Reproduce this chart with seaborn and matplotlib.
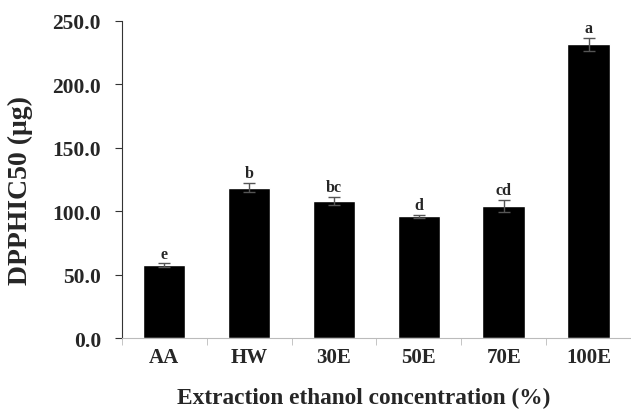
import pandas as pd
import matplotlib
matplotlib.use('Agg')
import matplotlib.pyplot as plt
import seaborn as sns

# data
groups = ['AA', 'HW', '30E', '50E', '70E', '100E']
ic50 = [57.5, 118.7, 108.0, 96.1, 104.0, 231.7]
err = [1.5, 3.5, 3.2, 1.3, 4.7, 5.0]
letters = ['e', 'b', 'bc', 'd', 'cd', 'a']

df = pd.DataFrame({'group': groups, 'ic50': ic50, 'err': err, 'letter': letters})

sns.set_style('white')
plt.rcParams['font.family'] = ['Liberation Serif', 'DejaVu Serif']
plt.rcParams['font.weight'] = 'bold'

fig = plt.figure(figsize=(6.31, 4.10), dpi=100)
ax = fig.add_axes([0.193, 0.1724, 0.807, 0.774])

sns.barplot(data=df, x='group', y='ic50', color='black', width=0.5,
            saturation=1, errorbar=None, ax=ax)
ax.errorbar(range(len(groups)), df['ic50'], yerr=df['err'], fmt='none',
            ecolor='#555555', elinewidth=1, capsize=4, capthick=1)

for i, row in df.iterrows():
    ax.text(i, row['ic50'] + row['err'] + 1.5, row['letter'], ha='center', va='bottom',
            fontsize=11.5, fontweight='bold')

ax.set_ylim(0, 250)
ax.set_xlim(-0.5, 5.4)
ax.set_yticks([0, 50, 100, 150, 200, 250])
ax.set_yticklabels([f'{v:.1f}' for v in [0, 50, 100, 150, 200, 250]])
ax.set_xticks(range(len(groups)))
ax.set_xticklabels(groups)
ax.set_xticks([i + 0.5 for i in range(-1, len(groups))], minor=True)

for s in ['top', 'right']:
    ax.spines[s].set_visible(False)
ax.spines['left'].set_color('#333333')
ax.spines['bottom'].set_color('#bbbbbb')

ax.tick_params(axis='y', which='major', left=True, length=5, color='#333333',
               labelsize=15.5, pad=10)
ax.tick_params(axis='x', which='major', bottom=False, labelsize=15, pad=3)
ax.tick_params(axis='x', which='minor', bottom=True, length=5, color='#bbbbbb')
for lab in ax.get_xticklabels() + ax.get_yticklabels():
    lab.set_fontweight('bold')

ax.set_xlabel('Extraction ethanol concentration (%)', fontsize=16.8, fontweight='bold')
ax.set_ylabel('DPPHIC50 (μg)', fontsize=20, fontweight='bold')
ax.xaxis.set_label_coords(0.475, -0.152)
ax.yaxis.set_label_coords(-0.175, 0.47)
ax.yaxis.label.set_va('bottom')

fig.savefig('out.png', dpi=100)
